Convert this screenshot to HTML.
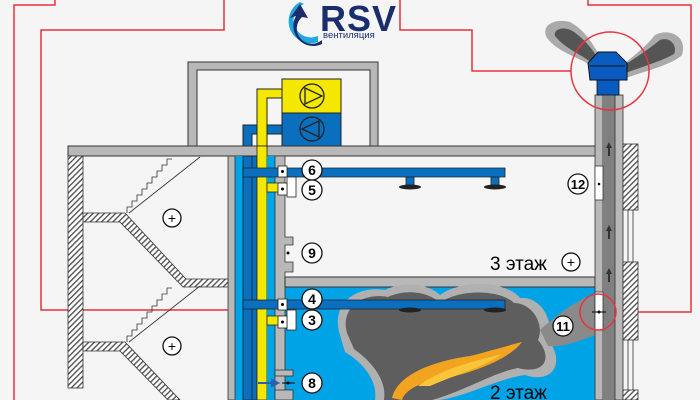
<!DOCTYPE html>
<html><head><meta charset="utf-8"><style>
html,body{margin:0;padding:0;background:#f5f5f5}
svg{display:block}
text{font-family:"Liberation Sans",sans-serif}
</style></head><body>
<svg width="700" height="400" viewBox="0 0 700 400" xmlns="http://www.w3.org/2000/svg">
<defs>
<pattern id="h" width="4" height="4" patternUnits="userSpaceOnUse" patternTransform="rotate(45)">
<rect width="4" height="4" fill="#fff"/><rect width="1.4" height="4" fill="#555"/></pattern>
</defs>
<rect width="700" height="400" fill="#f5f5f5"/>

<!-- logo -->
<path d="M300 2 A22 22 0 0 0 318 42 L318 36 A17 17 0 0 1 304 4 Z" fill="#1ea7e1"/>
<path d="M322 44 A20 20 0 0 1 296 16 L290 18 L300 4 L308 18 L302 17 A15 15 0 0 0 322 40 Z" fill="#1a2e6e"/>
<text x="320" y="31" font-size="36" font-weight="bold" fill="#1a2e6e" letter-spacing="1">RSV</text>
<text x="323" y="38" font-size="9.5" fill="#1a2e6e">вентиляция</text>

<!-- red lines -->
<g fill="none" stroke="#e8333c" stroke-width="1.5">
<polyline points="55,0 55,5 14,5 14,400"/>
<polyline points="224,0 224,30 41,30 41,310 262,310"/>
<circle cx="281" cy="311" r="19"/>
<polyline points="400,0 400,30 472,30 472,71 571,71"/>
<polyline points="588,0 588,5 691,5 691,312 616,312"/>
</g>

<!-- attic frame -->
<path d="M188 146 V62 H378 V146 H370 V70 H197 V146 Z" fill="#b8b8b8" stroke="#333" stroke-width="1"/>

<!-- AHU -->
<rect x="282" y="79" width="59" height="34" fill="#f5e800" stroke="#222"/>
<rect x="282" y="113" width="59" height="33" fill="#0a6fbf" stroke="#222"/>
<circle cx="312" cy="96" r="12" fill="none" stroke="#222" stroke-width="1.3"/>
<path d="M305 88 L322 96 L305 104 Z" fill="none" stroke="#222" stroke-width="1.3"/>
<circle cx="312" cy="129" r="12" fill="none" stroke="#222" stroke-width="1.3"/>
<path d="M319 121 L302 129 L319 137 Z" fill="none" stroke="#222" stroke-width="1.3"/>
<path d="M243 146 V125 H282 V134 H252 V146 Z" fill="#0a6fbf" stroke="#222"/>
<path d="M257 146 V89 H282 V98 H267 V146 Z" fill="#f5e800" stroke="#222"/>

<!-- roof slab -->
<rect x="68" y="146" width="535" height="10" fill="#b8b8b8" stroke="#333"/>

<!-- floor 2 blue room -->
<rect x="285" y="287" width="310" height="113" fill="#00a3e6"/>

<!-- shafts -->
<rect x="235" y="156" width="8" height="244" fill="#00a3e6"/>
<rect x="243" y="156" width="14" height="244" fill="#0a6fbf" stroke="#222" stroke-width="0.8"/>
<rect x="257" y="146" width="10" height="254" fill="#f5e800" stroke="#222" stroke-width="0.8"/>
<rect x="267" y="156" width="8" height="244" fill="#00a3e6"/>
<line x1="252" y1="156" x2="252" y2="400" stroke="#222" stroke-width="0.8"/>

<rect x="228" y="156" width="7" height="244" fill="#b8b8b8" stroke="#333" stroke-width="0.8"/>

<path d="M275 156 H285 V237 H293 V245 H285 V262 H293 V272 H285 V400 H275 Z" fill="#b8b8b8" stroke="#333" stroke-width="0.8"/>
<rect x="275" y="370" width="18" height="6" fill="#b8b8b8" stroke="#333" stroke-width="0.8"/>
<rect x="275" y="390" width="18" height="10" fill="#b8b8b8" stroke="#333" stroke-width="0.8"/>

<rect x="285" y="277" width="310" height="10" fill="#b8b8b8" stroke="#333"/>

<!-- floor 3 duct -->
<path d="M243 168 H505 V177 H243 Z" fill="#0a6fbf" stroke="#222" stroke-width="0.8"/>
<path d="M267 183 H287 V192 H267 Z" fill="#f5e800" stroke="#222" stroke-width="0.8"/>
<g fill="#0a6fbf" stroke="#222" stroke-width="0.8">
<rect x="406" y="177" width="8" height="9"/><rect x="491" y="177" width="8" height="9"/>
</g>
<g fill="#222"><ellipse cx="410" cy="187" rx="11" ry="2.5"/><ellipse cx="495" cy="187" rx="11" ry="2.5"/></g>

<rect x="287" y="177" width="9" height="20" fill="#fff" stroke="#222" stroke-width="0.8"/>
<rect x="278" y="166" width="9" height="11" fill="#fff" stroke="#222" stroke-width="0.8"/>
<rect x="278" y="183" width="9" height="12" fill="#fff" stroke="#222" stroke-width="0.8"/>
<circle cx="282.5" cy="171.5" r="1.5" fill="#000"/><circle cx="282.5" cy="189" r="1.5" fill="#000"/>
<circle cx="288" cy="253" r="1.5" fill="#000"/>

<!-- smoke floor 2 -->
<path d="M340 335 C330 305 355 285 385 290 C405 280 430 285 440 295 C460 280 505 280 520 298 C540 296 555 320 548 340 C565 360 555 385 525 375 C500 378 470 395 440 400 L375 400 C378 380 362 362 345 352 Z" fill="#b0b0b0"/>
<path d="M347 333 C340 308 362 292 388 297 C408 288 430 293 440 303 C458 289 500 289 514 303 C532 303 545 324 538 340 C553 358 545 375 518 368 C495 372 462 392 432 400 L384 400 C387 380 372 362 354 349 Z" fill="#5e5e5e"/>
<path d="M540 330 C560 312 580 298 598 293 L600 335 C585 336 570 348 548 346 Z" fill="#8a8a8a"/>
<path d="M392 398 C398 372 440 360 470 356 C490 351 510 345 522 342 C508 360 472 373 442 379 C420 382 405 390 402 400 Z" fill="#f2a320"/>
<path d="M418 386 C440 370 470 362 502 354 C482 368 452 376 430 386 Z" fill="#f8c63a"/>

<!-- floor 2 duct -->
<path d="M243 300 H505 V309 H243 Z" fill="#0a6fbf" stroke="#222" stroke-width="0.8"/>
<g fill="#0a6fbf" stroke="#222" stroke-width="0.8">
<rect x="406" y="309" width="8" height="0"/>
</g>
<g fill="#222"><ellipse cx="410" cy="310" rx="11" ry="2.5"/><ellipse cx="495" cy="310" rx="11" ry="2.5"/></g>
<path d="M267 316 H287 V325 H267 Z" fill="#f5e800" stroke="#222" stroke-width="0.8"/>
<rect x="287" y="310" width="9" height="20" fill="#fff" stroke="#222" stroke-width="0.8"/>
<rect x="278" y="299" width="9" height="11" fill="#fff" stroke="#222" stroke-width="0.8"/>
<rect x="278" y="316" width="9" height="12" fill="#fff" stroke="#222" stroke-width="0.8"/>
<circle cx="282.5" cy="304.5" r="1.5" fill="#000"/><circle cx="282.5" cy="322" r="1.5" fill="#000"/>
<path d="M258 383 H272 L272 380 L278 383 L272 386 L272 383" fill="#2a5fb0" stroke="#2a5fb0" stroke-width="2"/>
<line x1="282" y1="383" x2="295" y2="383" stroke="#000"/><circle cx="288" cy="383" r="1.5" fill="#000"/>

<!-- smoke shaft -->
<rect x="595" y="95" width="8" height="305" fill="#b8b8b8" stroke="#333" stroke-width="0.8"/>
<rect x="603" y="95" width="12" height="305" fill="#808080"/>
<rect x="615" y="95" width="8" height="305" fill="#b8b8b8" stroke="#333" stroke-width="0.8"/>
<g fill="#333"><path d="M609 142 l-3 6 h2 v8 h2 v-8 h2 Z"/><path d="M609 225 l-3 6 h2 v8 h2 v-8 h2 Z"/><path d="M609 268 l-3 6 h2 v8 h2 v-8 h2 Z"/></g>
<rect x="595" y="166" width="8" height="34" fill="#fff" stroke="#333" stroke-width="0.8"/>
<circle cx="599" cy="184" r="1.3" fill="#000"/>
<rect x="595" y="292" width="8" height="38" fill="#fff" stroke="#333" stroke-width="0.8"/>
<line x1="592" y1="312" x2="606" y2="312" stroke="#000"/><circle cx="599" cy="312" r="1.5" fill="#000"/>
<circle cx="598" cy="312" r="18" fill="none" stroke="#e8333c" stroke-width="1.5"/>

<!-- facade -->
<g stroke="#333" stroke-width="0.8">
<rect x="623" y="144" width="15" height="66" fill="url(#h)"/>
<rect x="623" y="262" width="15" height="78" fill="url(#h)"/>
<rect x="623" y="390" width="15" height="10" fill="url(#h)"/>
<line x1="628" y1="210" x2="628" y2="262"/><line x1="633" y1="210" x2="633" y2="262"/>
<line x1="628" y1="340" x2="628" y2="390"/><line x1="633" y1="340" x2="633" y2="390"/>
</g>

<!-- roof smoke & fan -->
<path d="M600 72 C585 58 560 55 547 38 C540 25 555 18 570 22 C585 30 595 45 606 70 Z" fill="#aaa"/>
<path d="M598 68 C586 56 566 50 555 36 C553 28 566 26 574 32 C588 42 597 55 603 68 Z" fill="#555"/>
<path d="M615 72 C628 60 645 48 655 35 C668 28 688 35 682 55 C672 65 642 72 620 80 Z" fill="#aaa"/>
<path d="M617 70 C632 60 648 50 660 40 C670 36 678 46 674 54 C660 62 638 68 620 75 Z" fill="#555"/>
<rect x="597" y="80" width="22" height="15" fill="#0a5bbf" stroke="#111" stroke-width="0.8"/>
<path d="M588 63 L598 52 H616 L627 63 V80 H590 Z" fill="#0a5bbf" stroke="#111" stroke-width="1"/>
<line x1="590" y1="66" x2="625" y2="66" stroke="#111"/>
<circle cx="610" cy="71" r="39" fill="none" stroke="#e8333c" stroke-width="1.5"/>

<!-- stairs left -->
<rect x="68" y="156" width="15" height="232" fill="url(#h)" stroke="#333" stroke-width="0.8"/>
<g stroke="#333" stroke-width="0.8" fill="url(#h)">
<path d="M83 213 H125 L186 279 H228 V287 H183 L120 222 H83 Z"/>
<path d="M83 342 H125 L180 400 H168 L120 351 H83 Z"/>
</g>
<g fill="none" stroke="#333" stroke-width="0.8">
<path d="M127 213 V207 h5 v-6 h5 v-6 h5 v-6 h5 v-6 h5 v-6 h5 v-6 h5 v-6 h5 v-6 h5"/>
<line x1="129" y1="213" x2="200" y2="157"/>
<path d="M127 342 V336 h5 v-6 h5 v-6 h5 v-6 h5 v-6 h5 v-6 h5 v-6 h5 v-6 h5 v-6 h5"/>
<line x1="129" y1="342" x2="200" y2="286"/>
</g>

<!-- number circles -->
<g font-weight="bold" font-size="14" text-anchor="middle">
<g fill="#fff" stroke="#111" stroke-width="1.3">
<circle cx="312" cy="170" r="10"/><circle cx="312" cy="190" r="10"/><circle cx="312" cy="253" r="10"/>
<circle cx="312" cy="299" r="10"/><circle cx="312" cy="320" r="10"/><circle cx="312" cy="383" r="10"/>
<circle cx="578" cy="184" r="10"/><circle cx="563" cy="326" r="10"/>
<circle cx="172" cy="218" r="9"/><circle cx="172" cy="346" r="9"/><circle cx="571" cy="262" r="9"/>
</g>
<text x="312" y="175">6</text><text x="312" y="195">5</text><text x="312" y="258">9</text>
<text x="312" y="304">4</text><text x="312" y="325">3</text><text x="312" y="388">8</text>
<text x="578" y="189" font-size="13">12</text><text x="563" y="331" font-size="13">11</text>
<text x="172" y="223" font-weight="normal">+</text><text x="172" y="351" font-weight="normal">+</text>
<text x="571" y="267" font-weight="normal">+</text>
</g>
<text x="490" y="270" font-size="19">3 этаж</text>
<text x="490" y="399" font-size="19">2 этаж</text>
</svg>
</body></html>
